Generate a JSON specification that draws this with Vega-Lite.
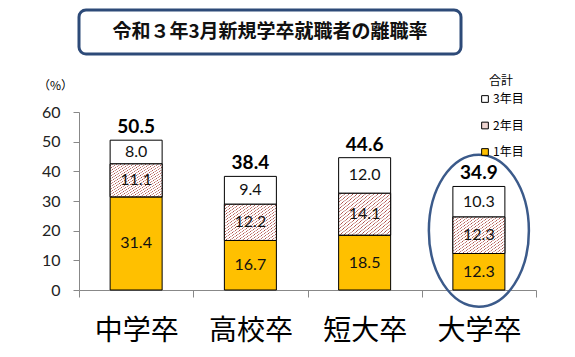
{
  "$schema": "https://vega.github.io/schema/vega-lite/v6.json",
  "autosize": {"type": "pad"},
  "padding": {"left": 37, "top": 8, "right": 5, "bottom": 5},
  "background": "white",
  "config": {
    "view": {"stroke": null},
    "font": "Noto Sans CJK JP",
    "axisY": {
      "grid": false,
      "domainColor": "#888",
      "tickColor": "#888",
      "tickSize": 6,
      "tickCount": 7,
      "labelPadding": 13,
      "labelFont": "Lato",
      "labelFontSize": 16,
      "labelColor": "#222",
      "titleAngle": 0,
      "titleX": -24,
      "titleY": -27,
      "titleAlign": "center",
      "titleBaseline": "middle",
      "titleFont": "Noto Sans CJK JP",
      "titleFontSize": 12,
      "titleFontWeight": "normal",
      "titleColor": "#000"
    },
    "axisX": {
      "labelAngle": 0,
      "labelFont": "Noto Sans CJK JP",
      "labelFontSize": 28,
      "labelColor": "#000",
      "labelPadding": 20,
      "tickBand": "extent",
      "tickSize": 7,
      "tickColor": "#888",
      "domainColor": "#888",
      "grid": false
    }
  },
  "datasets": {
    "rates": [
      {"学歴": "中学卒", "年目": "1年目", "年": 1, "値": 31.4},
      {"学歴": "中学卒", "年目": "2年目", "年": 2, "値": 11.1},
      {"学歴": "中学卒", "年目": "3年目", "年": 3, "値": 8.0},
      {"学歴": "高校卒", "年目": "1年目", "年": 1, "値": 16.7},
      {"学歴": "高校卒", "年目": "2年目", "年": 2, "値": 12.2},
      {"学歴": "高校卒", "年目": "3年目", "年": 3, "値": 9.4},
      {"学歴": "短大卒", "年目": "1年目", "年": 1, "値": 18.5},
      {"学歴": "短大卒", "年目": "2年目", "年": 2, "値": 14.1},
      {"学歴": "短大卒", "年目": "3年目", "年": 3, "値": 12.0},
      {"学歴": "大学卒", "年目": "1年目", "年": 1, "値": 12.3},
      {"学歴": "大学卒", "年目": "2年目", "年": 2, "値": 12.3},
      {"学歴": "大学卒", "年目": "3年目", "年": 3, "値": 10.3}
    ],
    "totals": [
      {"学歴": "中学卒", "合計": 50.5},
      {"学歴": "高校卒", "合計": 38.4},
      {"学歴": "短大卒", "合計": 44.6},
      {"学歴": "大学卒", "合計": 34.9}
    ],
    "highlight": [{"学歴": "大学卒", "位置": 20}]
  },
  "bounds": "flush",
  "spacing": 58,
  "resolve": {"scale": {"fill": "independent"}, "legend": {"fill": "independent"}},
  "vconcat": [
    {
      "width": 382,
      "height": 44,
      "view": {"stroke": "#2d4a78", "strokeWidth": 3, "cornerRadius": 7, "fill": "white"},
      "data": {"values": [{"title": "令和３年3月新規学卒就職者の離職率"}]},
      "mark": {"type": "text", "fontSize": 19, "fontWeight": "bold", "font": "Noto Sans CJK JP", "color": "#111"},
      "encoding": {"text": {"field": "title"}}
    },
    {
      "width": 457,
      "height": 178,
      "encoding": {
        "x": {
          "field": "学歴",
          "type": "nominal",
          "sort": ["中学卒", "高校卒", "短大卒", "大学卒"],
          "scale": {"paddingInner": 0, "paddingOuter": 0},
          "title": null
        }
      },
      "layer": [
        {
          "data": {"name": "rates"},
          "transform": [
            {"stack": "値", "groupby": ["学歴"], "sort": [{"field": "年"}], "as": ["v0", "v1"]}
          ],
          "mark": {"type": "bar", "size": 52, "stroke": "#000", "strokeWidth": 1},
          "encoding": {
            "y": {
              "field": "v1",
              "type": "quantitative",
              "scale": {"domain": [0, 60], "nice": false},
              "title": "（%）"
            },
            "y2": {"field": "v0"},
            "fill": {
              "field": "年目",
              "type": "nominal",
              "scale": {"domain": ["3年目", "2年目", "1年目"], "range": ["#ffffff", "#efd5d1", "#ffc000"]},
              "legend": {
                "title": "合計",
                "orient": "none",
                "legendX": 400,
                "legendY": -36,
                "titleFont": "Noto Sans CJK JP",
                "titleFontSize": 12,
                "titleFontWeight": "normal",
                "titleColor": "#000",
                "titleAnchor": "middle",
                "titlePadding": 5,
                "labelFont": "Noto Sans CJK JP",
                "labelFontSize": 12,
                "labelColor": "#000",
                "labelOffset": 2,
                "symbolType": "square",
                "symbolSize": 45,
                "symbolStrokeColor": "#000",
                "symbolStrokeWidth": 1,
                "rowPadding": 14.5,
                "padding": 0
              }
            }
          }
        },
        {
          "data": {"name": "rates"},
          "transform": [
            {"stack": "値", "groupby": ["学歴"], "sort": [{"field": "年"}], "as": ["v0", "v1"]},
            {"filter": {"field": "年", "equal": 2}}
          ],
          "mark": {
            "type": "bar",
            "size": 52,
            "stroke": "#000",
            "strokeWidth": 1,
            "fill": {
              "gradient": "linear",
              "x1": 0, "y1": 0, "x2": 1, "y2": 1,
              "stops": [
                {"offset": 0, "color": "#ffffff"},
                {"offset": 0.020, "color": "#ffffff"}, {"offset": 0.028, "color": "#a8463f"}, {"offset": 0.036, "color": "#ffffff"},
                {"offset": 0.060, "color": "#ffffff"}, {"offset": 0.068, "color": "#a8463f"}, {"offset": 0.076, "color": "#ffffff"},
                {"offset": 0.100, "color": "#ffffff"}, {"offset": 0.108, "color": "#a8463f"}, {"offset": 0.116, "color": "#ffffff"},
                {"offset": 0.140, "color": "#ffffff"}, {"offset": 0.148, "color": "#a8463f"}, {"offset": 0.156, "color": "#ffffff"},
                {"offset": 0.180, "color": "#ffffff"}, {"offset": 0.188, "color": "#a8463f"}, {"offset": 0.196, "color": "#ffffff"},
                {"offset": 0.220, "color": "#ffffff"}, {"offset": 0.228, "color": "#a8463f"}, {"offset": 0.236, "color": "#ffffff"},
                {"offset": 0.260, "color": "#ffffff"}, {"offset": 0.268, "color": "#a8463f"}, {"offset": 0.276, "color": "#ffffff"},
                {"offset": 0.300, "color": "#ffffff"}, {"offset": 0.308, "color": "#a8463f"}, {"offset": 0.316, "color": "#ffffff"},
                {"offset": 0.340, "color": "#ffffff"}, {"offset": 0.348, "color": "#a8463f"}, {"offset": 0.356, "color": "#ffffff"},
                {"offset": 0.380, "color": "#ffffff"}, {"offset": 0.388, "color": "#a8463f"}, {"offset": 0.396, "color": "#ffffff"},
                {"offset": 0.420, "color": "#ffffff"}, {"offset": 0.428, "color": "#a8463f"}, {"offset": 0.436, "color": "#ffffff"},
                {"offset": 0.460, "color": "#ffffff"}, {"offset": 0.468, "color": "#a8463f"}, {"offset": 0.476, "color": "#ffffff"},
                {"offset": 0.500, "color": "#ffffff"}, {"offset": 0.508, "color": "#a8463f"}, {"offset": 0.516, "color": "#ffffff"},
                {"offset": 0.540, "color": "#ffffff"}, {"offset": 0.548, "color": "#a8463f"}, {"offset": 0.556, "color": "#ffffff"},
                {"offset": 0.580, "color": "#ffffff"}, {"offset": 0.588, "color": "#a8463f"}, {"offset": 0.596, "color": "#ffffff"},
                {"offset": 0.620, "color": "#ffffff"}, {"offset": 0.628, "color": "#a8463f"}, {"offset": 0.636, "color": "#ffffff"},
                {"offset": 0.660, "color": "#ffffff"}, {"offset": 0.668, "color": "#a8463f"}, {"offset": 0.676, "color": "#ffffff"},
                {"offset": 0.700, "color": "#ffffff"}, {"offset": 0.708, "color": "#a8463f"}, {"offset": 0.716, "color": "#ffffff"},
                {"offset": 0.740, "color": "#ffffff"}, {"offset": 0.748, "color": "#a8463f"}, {"offset": 0.756, "color": "#ffffff"},
                {"offset": 0.780, "color": "#ffffff"}, {"offset": 0.788, "color": "#a8463f"}, {"offset": 0.796, "color": "#ffffff"},
                {"offset": 0.820, "color": "#ffffff"}, {"offset": 0.828, "color": "#a8463f"}, {"offset": 0.836, "color": "#ffffff"},
                {"offset": 0.860, "color": "#ffffff"}, {"offset": 0.868, "color": "#a8463f"}, {"offset": 0.876, "color": "#ffffff"},
                {"offset": 0.900, "color": "#ffffff"}, {"offset": 0.908, "color": "#a8463f"}, {"offset": 0.916, "color": "#ffffff"},
                {"offset": 0.940, "color": "#ffffff"}, {"offset": 0.948, "color": "#a8463f"}, {"offset": 0.956, "color": "#ffffff"},
                {"offset": 0.980, "color": "#ffffff"}, {"offset": 0.988, "color": "#a8463f"}, {"offset": 0.996, "color": "#ffffff"},
                {"offset": 1, "color": "#ffffff"}
              ]
            }
          },
          "encoding": {
            "y": {"field": "v1", "type": "quantitative"},
            "y2": {"field": "v0"}
          }
        },
        {
          "data": {"name": "rates"},
          "transform": [
            {"stack": "値", "groupby": ["学歴"], "sort": [{"field": "年"}], "as": ["v0", "v1"]},
            {"calculate": "(datum.v0 + datum.v1) / 2", "as": "mid"}
          ],
          "mark": {"type": "text", "font": "Lato", "fontSize": 16, "color": "#111"},
          "encoding": {
            "y": {"field": "mid", "type": "quantitative"},
            "text": {"field": "値", "type": "quantitative", "format": ".1f"}
          }
        },
        {
          "data": {"name": "totals"},
          "mark": {"type": "text", "font": "Lato", "fontSize": 19, "fontWeight": "bold", "baseline": "alphabetic", "dy": -7, "color": "#000"},
          "encoding": {
            "y": {"field": "合計", "type": "quantitative"},
            "text": {"field": "合計", "type": "quantitative", "format": ".1f"}
          }
        },
        {
          "data": {"name": "highlight"},
          "mark": {
            "type": "point",
            "shape": "M -0.658 0 A 0.658 1 0 1 0 0.658 0 A 0.658 1 0 1 0 -0.658 0 Z",
            "size": 23104,
            "filled": false,
            "color": "#3b5a8a",
            "stroke": "#3b5a8a",
            "strokeWidth": 2.5,
            "opacity": 1
          },
          "encoding": {
            "y": {"field": "位置", "type": "quantitative"}
          }
        }
      ]
    }
  ]
}
